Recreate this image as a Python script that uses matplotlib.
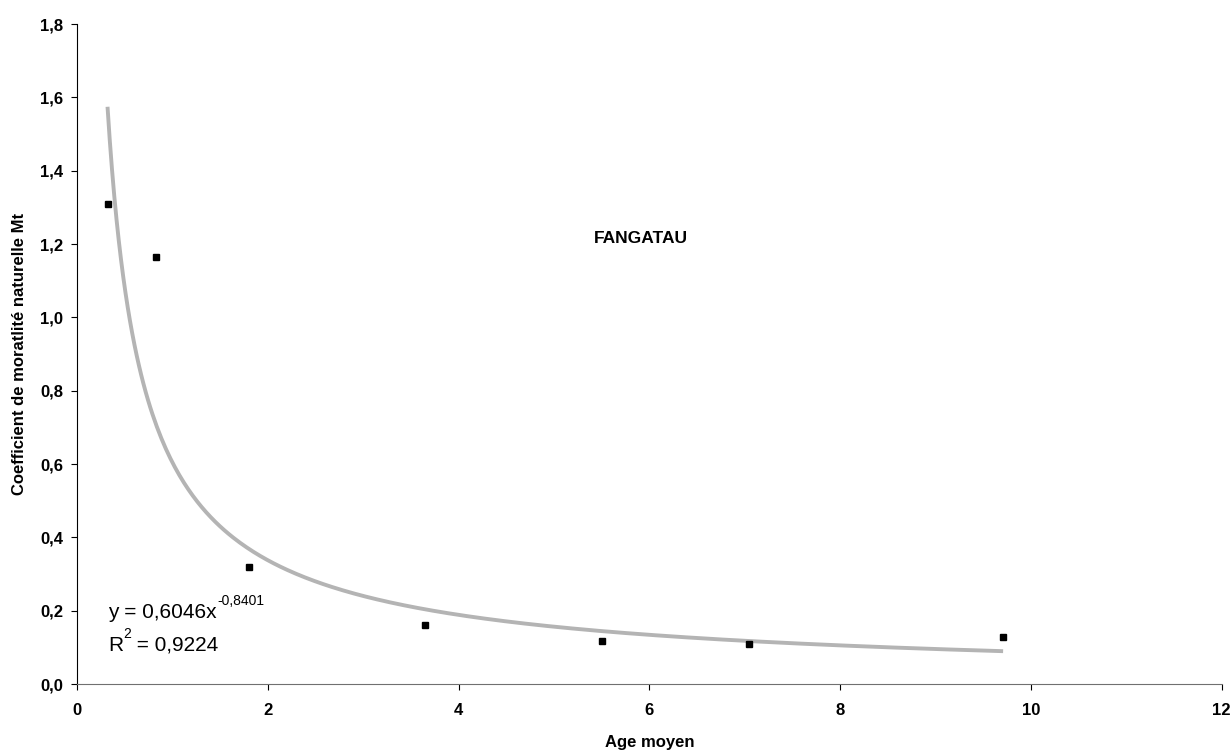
import matplotlib
matplotlib.use("Agg")
import matplotlib.pyplot as plt
import numpy as np
from matplotlib.ticker import FuncFormatter

plt.rcParams["font.family"] = ["Liberation Sans", "DejaVu Sans"]

# Données
age_moyen = [0.32, 0.83, 1.80, 3.65, 5.50, 7.05, 9.71]
mortalite = [1.309, 1.164, 0.32, 0.16, 0.118, 0.108, 0.128]

# Courbe de tendance (puissance) affichée
coef_a = 0.6046
coef_b = -0.8401
r2 = 0.9224
station = "FANGATAU"


def fr(v, pos):
    return f"{v:.1f}".replace(".", ",")


fig = plt.figure(figsize=(12.32, 7.51), dpi=100)
ax = fig.add_axes([0.0625, 0.0892, 0.929, 0.8786])

x_tend = np.linspace(min(age_moyen), max(age_moyen), 400)
ax.plot(x_tend, coef_a * x_tend ** coef_b, color="#b4b4b4", lw=2.8,
        solid_capstyle="butt", zorder=2)
ax.plot(age_moyen, mortalite, ls="none", marker="s", ms=5, color="black", zorder=3)

ax.set_xlim(0, 12)
ax.set_ylim(0, 1.8)
ax.set_xticks(np.arange(0, 13, 2))
ax.set_yticks(np.arange(0, 1.81, 0.2))
ax.yaxis.set_major_formatter(FuncFormatter(fr))

for s in ["top", "right"]:
    ax.spines[s].set_visible(False)
ax.spines["left"].set_color("black")
ax.spines["bottom"].set_color("#707070")
ax.tick_params(axis="both", direction="out", length=4, width=0.8, labelsize=12)
ax.tick_params(axis="x", pad=10)
ax.tick_params(axis="y", pad=6)
for lab in ax.get_xticklabels() + ax.get_yticklabels():
    lab.set_fontweight("bold")

ax.set_xlabel("Age moyen", fontsize=12, fontweight="bold", labelpad=12)
ax.set_ylabel("Coefficient de moratlité naturelle Mt", fontsize=12,
              fontweight="bold", labelpad=9)

ax.text(5.91, 1.214, station, ha="center", va="center", fontsize=12.5,
        fontweight="bold")

t1 = ax.text(0.33, 0.196, "y = " + f"{coef_a}".replace(".", ",") + "x",
             fontsize=15, va="center", ha="left")
ax.annotate(f"{coef_b}".replace(".", ","), xy=(1, 0.72), xycoords=t1,
            fontsize=10, va="bottom", ha="left")
t2 = ax.text(0.33, 0.106, "R", fontsize=15, va="center", ha="left")
t3 = ax.annotate("2", xy=(1, 0.72), xycoords=t2, fontsize=10,
                 va="bottom", ha="left")
ax.annotate(" = " + f"{r2}".replace(".", ","), xy=(1, 0), xycoords=(t3, t2),
            fontsize=15, va="bottom", ha="left")

fig.savefig("out.png", dpi=100)
